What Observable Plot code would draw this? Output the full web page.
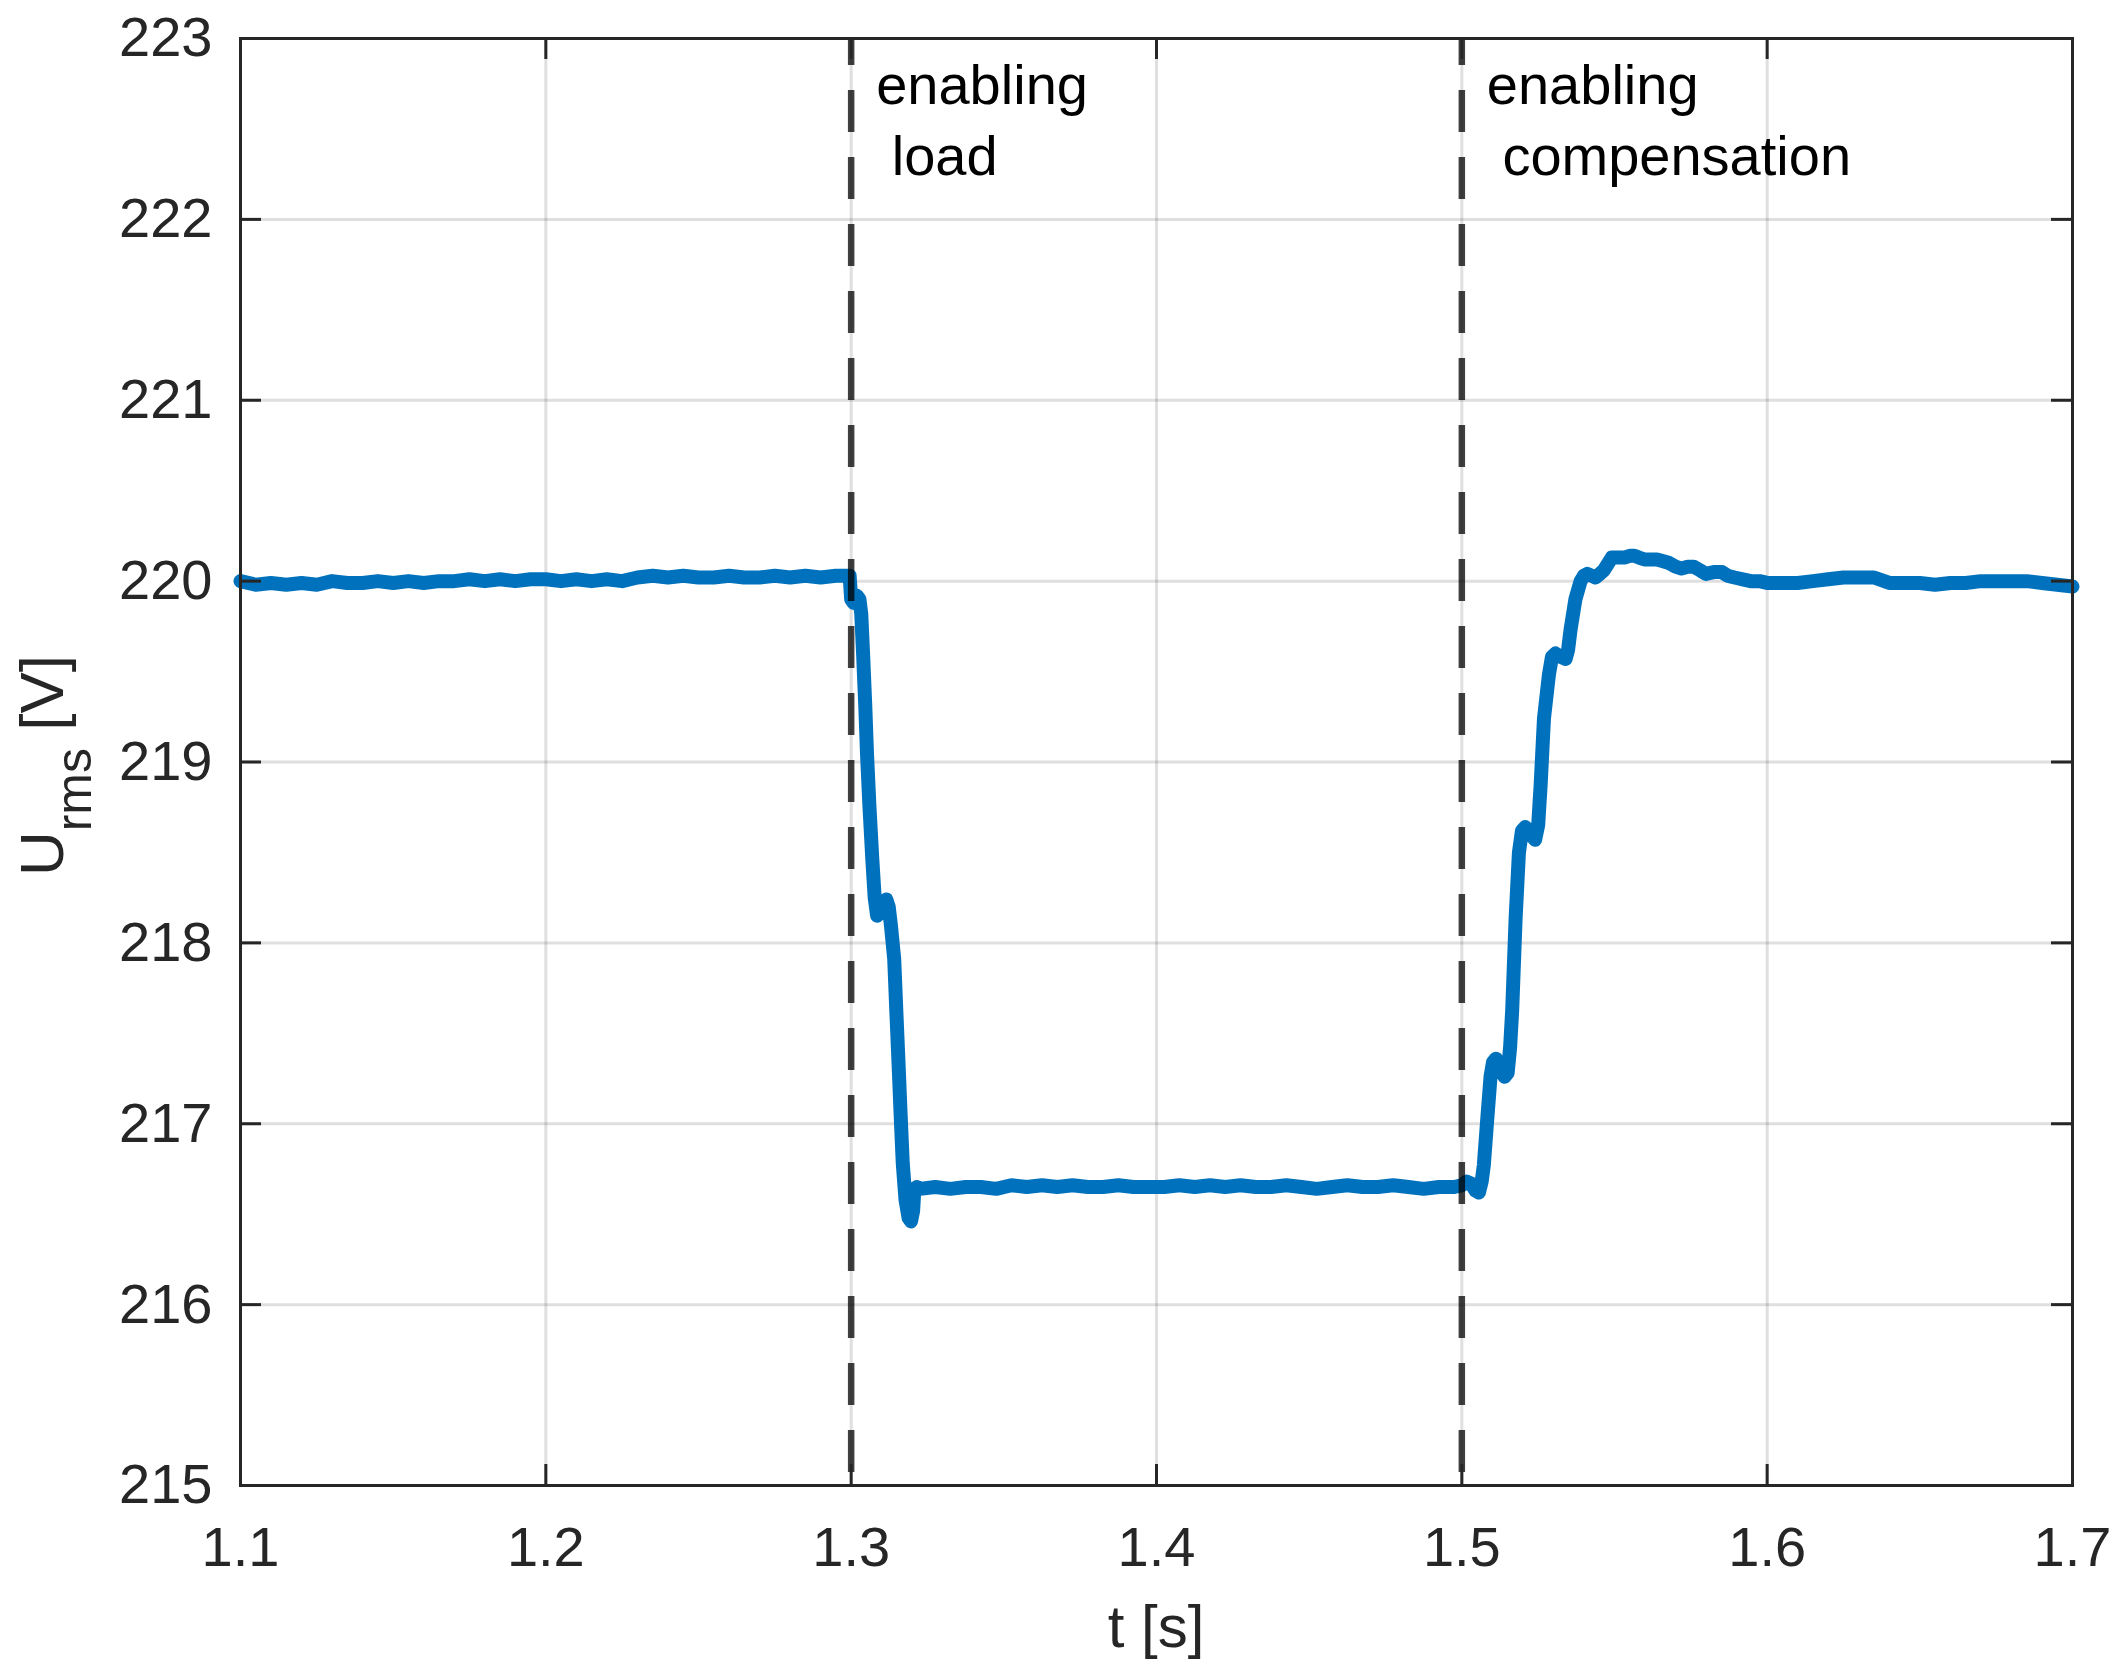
<!DOCTYPE html>
<html>
<head>
<meta charset="utf-8">
<script src="https://cdn.jsdelivr.net/npm/d3@7"></script>
<script src="https://cdn.jsdelivr.net/npm/@observablehq/plot@0.6"></script>
<style>
  html, body { margin: 0; padding: 0; background: #ffffff; }
  svg { display: block; }
  svg text { white-space: pre; }
</style>
</head>
<body>
<div id="chart"></div>
<script>
// Time axis values (s)
const timeValues = [
  1.100, 1.105, 1.110, 1.115, 1.120, 1.125, 1.130, 1.135, 1.140, 1.145,
  1.150, 1.155, 1.160, 1.165, 1.170, 1.175, 1.180, 1.185, 1.190, 1.195,
  1.200, 1.205, 1.210, 1.215, 1.220, 1.225, 1.230, 1.235, 1.240, 1.245,
  1.250, 1.255, 1.260, 1.265, 1.270, 1.275, 1.280, 1.285, 1.290, 1.295,
  1.2995, 1.3000, 1.3008, 1.3018, 1.3027, 1.3033, 1.3039, 1.3046, 1.3052, 1.3060,
  1.3069, 1.3077, 1.3085, 1.3095, 1.3105, 1.3115, 1.3123, 1.3130, 1.3141, 1.3148,
  1.3155, 1.3162, 1.3169, 1.3178, 1.3188, 1.3196, 1.3203, 1.3207, 1.3215,
  1.3225, 1.3275, 1.3325, 1.3375, 1.3425, 1.3475, 1.3525, 1.3575, 1.3625, 1.3675,
  1.3725, 1.3775, 1.3825, 1.3875, 1.3925, 1.3975, 1.4025, 1.4075, 1.4125, 1.4175,
  1.4225, 1.4275, 1.4325, 1.4375, 1.4425, 1.4475, 1.4525, 1.4575, 1.4625, 1.4675,
  1.4725, 1.4775, 1.4825, 1.4875, 1.4925, 1.4975,
  1.5000, 1.5015, 1.5030, 1.5045, 1.5056, 1.5065, 1.5072, 1.5083, 1.5094, 1.5102,
  1.5112, 1.5125, 1.5140, 1.5150, 1.5158, 1.5165, 1.5176, 1.5187, 1.5197, 1.5208,
  1.5225, 1.5240, 1.5250, 1.5258, 1.5269, 1.5285, 1.5295, 1.5307, 1.5325, 1.5340,
  1.5348, 1.5356, 1.5372, 1.5389, 1.5400, 1.5411, 1.5425, 1.5438, 1.5452, 1.5465,
  1.5480, 1.5491, 1.5510, 1.5532, 1.5550, 1.5565, 1.5580, 1.5598, 1.5620, 1.5639,
  1.5660, 1.5679, 1.5700, 1.5719, 1.5740, 1.5759, 1.5780, 1.5799, 1.5825, 1.5852,
  1.5870, 1.5893, 1.5920, 1.5946, 1.5975,
  1.600, 1.605, 1.610, 1.615, 1.620, 1.625, 1.630, 1.635, 1.640, 1.645,
  1.650, 1.655, 1.660, 1.665, 1.670, 1.675, 1.680, 1.685, 1.690, 1.695, 1.700
];

// RMS voltage values (V)
const voltageValues = [
  220.00, 219.98, 219.99, 219.98, 219.99, 219.98, 220.00, 219.99, 219.99, 220.00,
  219.99, 220.00, 219.99, 220.00, 220.00, 220.01, 220.00, 220.01, 220.00, 220.01,
  220.01, 220.00, 220.01, 220.00, 220.01, 220.00, 220.02, 220.03, 220.02, 220.03,
  220.02, 220.02, 220.03, 220.02, 220.02, 220.03, 220.02, 220.03, 220.02, 220.03,
  220.03, 219.90, 219.88, 219.92, 219.90, 219.82, 219.60, 219.32, 219.04, 218.75,
  218.47, 218.25, 218.15, 218.17, 218.21, 218.24, 218.20, 218.10, 217.91, 217.62,
  217.34, 217.05, 216.78, 216.58, 216.48, 216.46, 216.52, 216.64, 216.65,
  216.64, 216.65, 216.64, 216.65, 216.65, 216.64, 216.66, 216.65, 216.66, 216.65,
  216.66, 216.65, 216.65, 216.66, 216.65, 216.65, 216.65, 216.66, 216.65, 216.66,
  216.65, 216.66, 216.65, 216.65, 216.66, 216.65, 216.64, 216.65, 216.66, 216.65,
  216.65, 216.66, 216.65, 216.64, 216.65, 216.65,
  216.66, 216.68, 216.67, 216.63, 216.62, 216.68, 216.77, 217.02, 217.26, 217.34,
  217.36, 217.31, 217.26, 217.28, 217.42, 217.63, 218.13, 218.50, 218.62, 218.64,
  218.60, 218.57, 218.65, 218.87, 219.24, 219.48, 219.58, 219.60, 219.58, 219.57,
  219.62, 219.73, 219.90, 220.00, 220.03, 220.04, 220.03, 220.02, 220.04, 220.06,
  220.10, 220.13, 220.13, 220.13, 220.14, 220.14, 220.13, 220.12, 220.12, 220.12,
  220.11, 220.10, 220.08, 220.07, 220.08, 220.08, 220.06, 220.04, 220.05, 220.05,
  220.03, 220.02, 220.01, 220.00, 220.00,
  219.99, 219.99, 219.99, 220.00, 220.01, 220.02, 220.02, 220.02, 219.99, 219.99,
  219.99, 219.98, 219.99, 219.99, 220.00, 220.00, 220.00, 220.00, 219.99, 219.98, 219.97
];

// Event markers
const eventTimes = [1.3, 1.5];
const eventLabels = ["enabling\n load", "enabling\n compensation"];

// Tick values
const xTicks = [1.1, 1.2, 1.3, 1.4, 1.5, 1.6, 1.7];
const yTicks = [215, 216, 217, 218, 219, 220, 221, 222, 223];
const xTickLabels = ["1.1", "1.2", "1.3", "1.4", "1.5", "1.6", "1.7"];

const series = timeValues.map((t, i) => ({t, v: voltageValues[i]}));
const events = eventTimes.map((t, i) => ({t, label: eventLabels[i]}));

const W = 2125, H = 1677;
const mL = 240, mR = 53, mT = 38, mB = 192;
const plotW = W - mL - mR, plotH = H - mT - mB;
const tickLen = 21;
const axisColor = "#262626";

const chart = Plot.plot({
  width: W,
  height: H,
  marginLeft: mL,
  marginRight: mR,
  marginTop: mT,
  marginBottom: mB,
  style: {
    fontFamily: "'Liberation Sans', Arial, Helvetica, sans-serif",
    color: axisColor,
    background: "#ffffff"
  },
  x: {domain: [1.1, 1.7], ticks: xTicks},
  y: {domain: [215, 223], ticks: yTicks},
  marks: [
    Plot.gridX(xTicks, {stroke: axisColor, strokeOpacity: 0.15, strokeWidth: 3}),
    Plot.gridY(yTicks, {stroke: axisColor, strokeOpacity: 0.15, strokeWidth: 3}),
    Plot.line(series, {
      x: "t", y: "v",
      stroke: "#0072BD", strokeWidth: 14,
      strokeLinejoin: "round", strokeLinecap: "round"
    }),
    Plot.ruleX(events, {
      x: "t",
      stroke: "#000000", strokeOpacity: 0.75, strokeWidth: 6.5,
      strokeDasharray: "42,25", strokeDashoffset: 15
    }),
    Plot.text(events, {
      x: "t", text: "label",
      frameAnchor: "top", textAnchor: "start", lineAnchor: "top",
      dx: 25, dy: 15, lineHeight: 1.27,
      fontSize: 56, fill: "#000000"
    }),
    Plot.tickX(xTicks, {x: d => d, insetTop: plotH - tickLen, stroke: axisColor, strokeWidth: 3}),
    Plot.tickX(xTicks, {x: d => d, insetBottom: plotH - tickLen, stroke: axisColor, strokeWidth: 3}),
    Plot.tickY(yTicks, {y: d => d, insetRight: plotW - tickLen, stroke: axisColor, strokeWidth: 3}),
    Plot.tickY(yTicks, {y: d => d, insetLeft: plotW - tickLen, stroke: axisColor, strokeWidth: 3}),
    Plot.frame({stroke: axisColor, strokeWidth: 3}),
    Plot.axisX(xTicks, {
      tickSize: 0, tickPadding: 41, fontSize: 56, label: null,
      tickFormat: (d, i) => xTickLabels[i]
    }),
    Plot.axisY(yTicks, {
      tickSize: 0, tickPadding: 28, fontSize: 56, label: null,
      tickFormat: d => String(d)
    })
  ]
});

document.getElementById("chart").appendChild(chart);

const svg = d3.select(chart);
// x-axis label
svg.append("text")
  .attr("x", mL + plotW / 2)
  .attr("y", 1647)
  .attr("text-anchor", "middle")
  .attr("font-size", 60)
  .attr("fill", axisColor)
  .attr("font-family", "'Liberation Sans', Arial, sans-serif")
  .text("t [s]");

// y-axis label with subscript
const yl = svg.append("text")
  .attr("transform", `translate(63,${mT + plotH / 2 + 4}) rotate(-90)`)
  .attr("text-anchor", "middle")
  .attr("font-size", 62)
  .attr("fill", axisColor)
  .attr("font-family", "'Liberation Sans', Arial, sans-serif");
yl.append("tspan").text("U");
yl.append("tspan").attr("font-size", 50).attr("dy", 28).text("rms");
yl.append("tspan").attr("dy", -28).text(" [V]");
</script>
</body>
</html>
